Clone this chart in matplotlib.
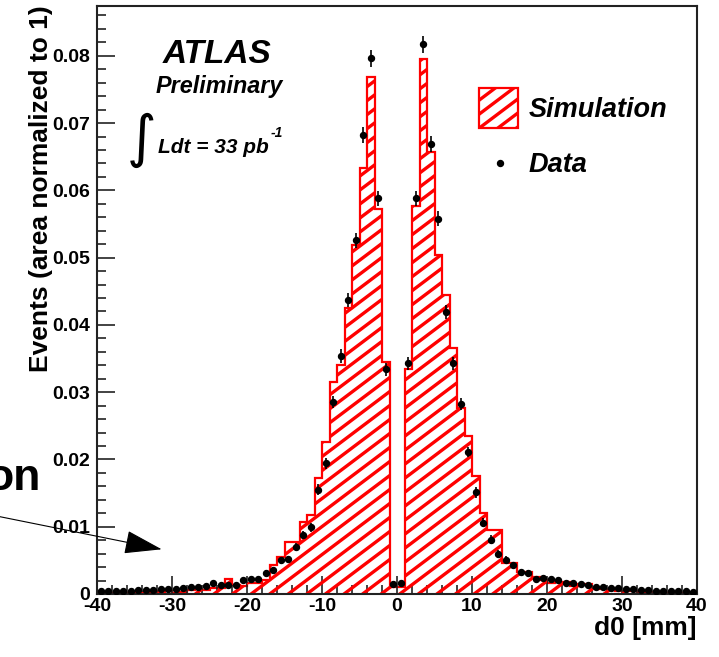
import numpy as np
import matplotlib
matplotlib.use("Agg")
import matplotlib.pyplot as plt
from matplotlib.collections import LineCollection
from matplotlib.patches import Rectangle, FancyArrowPatch

plt.rcParams['font.family'] = ['Liberation Sans', 'DejaVu Sans']
plt.rcParams['font.weight'] = 'bold'

# 1 mm bins from -40 to 40
bin_edges = np.arange(-40, 41, 1)
bin_centres = 0.5 * (bin_edges[:-1] + bin_edges[1:])

# simulated d0 distribution (area normalised to 1)
sim_values = [
    0.0002, 0.0002, 0.0001, 0.0002, 0.0002, 0.0003, 0.0003, 0.0004, 0.0003, 0.0004,
    0.0002, 0.0003, 0.0006, 0.0007, 0.0006, 0.0009, 0.0009, 0.0022, 0.0014, 0.0012,
    0.0017, 0.0017, 0.0021, 0.0043, 0.0055, 0.0078, 0.0078, 0.0107, 0.0117, 0.0172,
    0.0226, 0.0315, 0.0340, 0.0425, 0.0519, 0.0633, 0.0769, 0.0572, 0.0345, 0.0010,
    0.0010, 0.0335, 0.0577, 0.0795, 0.0657, 0.0504, 0.0444, 0.0365, 0.0276, 0.0235,
    0.0175, 0.0121, 0.0095, 0.0095, 0.0046, 0.0046, 0.0033, 0.0033, 0.0026, 0.0021,
    0.0016, 0.0018, 0.0018, 0.0012, 0.0015, 0.0015, 0.0008, 0.0008, 0.0006, 0.0005,
    0.0005, 0.0004, 0.0003, 0.0003, 0.0002, 0.0002, 0.0002, 0.0001, 0.0002, 0.0001,
]

# measured d0 distribution
data_values = [
    0.0004, 0.0004, 0.0004, 0.0005, 0.0005, 0.0006, 0.0006, 0.0006, 0.0007, 0.0007,
    0.0008, 0.0009, 0.0011, 0.0010, 0.0012, 0.0016, 0.0014, 0.0014, 0.0013, 0.0021,
    0.0023, 0.0023, 0.0031, 0.0036, 0.0050, 0.0052, 0.0070, 0.0088, 0.0099, 0.0155,
    0.0194, 0.0286, 0.0354, 0.0437, 0.0526, 0.0682, 0.0796, 0.0588, 0.0334, 0.0015,
    0.0017, 0.0343, 0.0588, 0.0817, 0.0669, 0.0558, 0.0419, 0.0343, 0.0283, 0.0211,
    0.0151, 0.0106, 0.0081, 0.0060, 0.0051, 0.0043, 0.0032, 0.0031, 0.0023, 0.0024,
    0.0023, 0.0021, 0.0017, 0.0016, 0.0015, 0.0013, 0.0011, 0.0010, 0.0009, 0.0009,
    0.0007, 0.0007, 0.0006, 0.0006, 0.0005, 0.0005, 0.0004, 0.0004, 0.0004, 0.0003,
]

data_errors = [
    0.0002, 0.0002, 0.0002, 0.0002, 0.0002, 0.0002, 0.0002, 0.0002, 0.0002, 0.0002,
    0.0002, 0.0002, 0.0003, 0.0003, 0.0003, 0.0003, 0.0003, 0.0003, 0.0003, 0.0003,
    0.0003, 0.0003, 0.0004, 0.0004, 0.0005, 0.0005, 0.0006, 0.0006, 0.0007, 0.0008,
    0.0008, 0.0009, 0.0010, 0.0010, 0.0011, 0.0012, 0.0013, 0.0011, 0.0010, 0.0003,
    0.0003, 0.0010, 0.0011, 0.0013, 0.0012, 0.0011, 0.0010, 0.0010, 0.0009, 0.0008,
    0.0008, 0.0007, 0.0006, 0.0006, 0.0005, 0.0005, 0.0004, 0.0004, 0.0003, 0.0003,
    0.0003, 0.0003, 0.0003, 0.0003, 0.0003, 0.0003, 0.0003, 0.0003, 0.0002, 0.0002,
    0.0002, 0.0002, 0.0002, 0.0002, 0.0002, 0.0002, 0.0002, 0.0002, 0.0002, 0.0002,
]

x_ticks = [-40, -30, -20, -10, 0, 10, 20, 30, 40]
x_tick_labels = ['-40', '-30', '-20', '-10', '0', '10', '20', '30', '40']
y_ticks = [0, 0.01, 0.02, 0.03, 0.04, 0.05, 0.06, 0.07, 0.08]
y_tick_labels = ['0', '0.01', '0.02', '0.03', '0.04', '0.05', '0.06', '0.07', '0.08']

W, H = 719, 657
RED = '#ff0000'


def px(x, y):
    # pixel position measured from the top-left corner -> figure fraction
    return x / W, 1 - y / H


def add_hatch(ax, clip_patch, angle=37, spacing=14, lw=2.4):
    # ROOT-like diagonal hatching, clipped to the given patch
    bbox = ax.get_window_extent()
    w, h = bbox.width, bbox.height
    slope = np.tan(np.radians(angle))
    segs = []
    for c in np.arange(-slope * w, h + spacing, spacing):
        segs.append([(0, c / h), (1, (c + slope * w) / h)])
    lc = LineCollection(segs, colors=RED, linewidths=lw, transform=ax.transAxes)
    ax.add_collection(lc)
    lc.set_clip_path(clip_patch)
    return lc


fig = plt.figure(figsize=(W / 100, H / 100), dpi=100)
ax = fig.add_axes([97 / W, 63 / H, 600 / W, 588 / H])

# simulation: hatched histogram with red outline
fill_patch = ax.stairs(sim_values, bin_edges, fill=True, facecolor='none', edgecolor='none')
add_hatch(ax, fill_patch)
ax.stairs(sim_values, bin_edges, color=RED, linewidth=1.6)

# data points
ax.errorbar(bin_centres, data_values, yerr=data_errors, fmt='o', color='black',
            markersize=4.3, elinewidth=1.2, capsize=0, zorder=5)

ax.set_xlim(-40, 40)
ax.set_ylim(0, 0.0874)
ax.set_xticks(x_ticks)
ax.set_xticklabels(x_tick_labels)
ax.set_xticks(np.arange(-40, 41, 2), minor=True)
ax.set_yticks(y_ticks)
ax.set_yticklabels(y_tick_labels)
ax.set_yticks(np.arange(0, 0.0874, 0.002), minor=True)
ax.tick_params(which='major', direction='in', length=13, width=1.2, labelsize=14,
               top=False, right=False, color='#222222')
ax.tick_params(which='minor', direction='in', length=6.5, width=1.2,
               top=False, right=False, color='#222222')
ax.tick_params(axis='y', pad=5)
ax.tick_params(axis='x', pad=3)
for s in ax.spines.values():
    s.set_linewidth(1.5)
    s.set_color('#222222')

# axis titles
fig.text(*px(41, 5), 'Events (area normalized to 1)', rotation=90, ha='center', va='top',
         fontsize=19, fontweight='bold')
fig.text(*px(697, 616), 'd0 [mm]', ha='right', va='top', fontsize=19, fontweight='bold')

# ATLAS label
fig.text(*px(217.5, 63.3), 'ATLAS', ha='center', va='baseline', fontsize=24,
         fontweight='bold', style='italic')
fig.text(*px(219, 93.3), 'Preliminary', ha='center', va='baseline', fontsize=16.8,
         fontweight='bold', style='italic')
fig.text(*px(141.5, 140), '\u222b', ha='center', va='center', fontsize=41,
         fontweight='normal', family='DejaVu Sans')
lumi = fig.text(*px(158.3, 153.3), 'Ldt = 33 pb', ha='left', va='baseline', fontsize=15,
                fontweight='bold', style='italic')

# legend
leg_box = Rectangle(((479.3 - 97) / 600, (594 - 127.7) / 588), 39 / 600, 39.4 / 588,
                    transform=ax.transAxes, facecolor='white', edgecolor=RED, linewidth=1.6,
                    zorder=6)
ax.add_patch(leg_box)
leg_hatch = add_hatch(ax, leg_box)
leg_hatch.set_zorder(7)
ax.plot([(500 - 97) / 600], [(594 - 163.3) / 588], 'o', color='black', markersize=4.3,
        transform=ax.transAxes, zorder=7)
fig.text(*px(528.3, 116.7), 'Simulation', ha='left', va='baseline', fontsize=19.5,
         fontweight='bold', style='italic')
fig.text(*px(528.3, 171.7), 'Data', ha='left', va='baseline', fontsize=19.5,
         fontweight='bold', style='italic')

# annotation pointing at the tail
fig.text(*px(41, 490), 'on', ha='right', va='baseline', fontsize=32, fontweight='bold')
arrow = FancyArrowPatch(px(-5, 515.7), px(161.7, 549.3), transform=fig.transFigure,
                        arrowstyle='-|>,head_length=24,head_width=7.5', mutation_scale=1,
                        color='black', linewidth=0.8, shrinkA=0, shrinkB=0)
fig.add_artist(arrow)

# superscript after the luminosity text
fig.canvas.draw()
bb = lumi.get_window_extent()
fig.text((bb.x1 + 2) / W, 1 - 136.7 / H, '-1', ha='left', va='baseline', fontsize=10,
         fontweight='bold', style='italic')

fig.savefig('out.png', dpi=100)
